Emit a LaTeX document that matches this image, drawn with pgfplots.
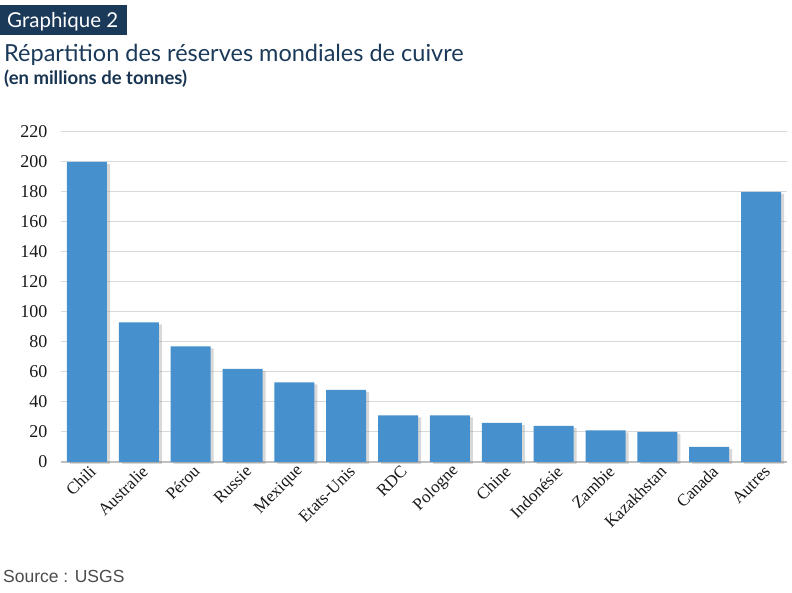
\documentclass[border=0pt]{standalone}
\usepackage{pgfplots}
\pgfplotsset{compat=1.18}
\usepackage{fontspec}
\setmainfont{Liberation Serif}
\newfontfamily\titlefont{Lato}
\newfontfamily\srcfont{Liberation Sans}
\newfontfamily\timesfont{Liberation Serif}
\usetikzlibrary{shadows}
\definecolor{barblue}{HTML}{4590CD}
\definecolor{navy}{HTML}{1B3A5A}
\definecolor{gridgray}{HTML}{D9D9D9}
\begin{document}
\begin{tikzpicture}
\path[use as bounding box, fill=white] (0pt,0pt) rectangle (792pt,593pt);
\fill[navy] (0pt,558pt) rectangle (127pt,588pt);
\node[anchor=base west, inner sep=0pt, text=white, font=\titlefont\fontsize{20.5}{20.5}\selectfont] at (7pt,565pt) {Graphique 2};
\node[anchor=base west, inner sep=0pt, text=navy, font=\titlefont\fontsize{23.5}{23.5}\selectfont] at (4pt,531pt) {Répartition des réserves mondiales de cuivre};
\node[anchor=base west, inner sep=0pt, text=navy!90!black, font=\titlefont\bfseries\fontsize{18.5}{18.5}\selectfont] at (4pt,508pt) {(en millions de tonnes)};
\node[anchor=base west, inner sep=0pt, text=black!70, font=\srcfont\fontsize{17.5}{17.5}\selectfont] at (3pt,10pt) {Source : USGS};
\begin{axis}[
  at={(61pt,131pt)}, anchor=south west,
  scale only axis, width=726pt, height=330pt,
  xmin=-0.5, xmax=13.5, ymin=0, ymax=220,
  ytick={0,20,...,220},
  xtick={0,...,13},
  xticklabels={Chili,Australie,Pérou,Russie,Mexique,Etats-Unis,RDC,Pologne,Chine,Indonésie,Zambie,Kazakhstan,Canada,Autres},
  major tick length=0pt,
  ymajorgrids, grid style={gridgray, line width=1pt},
  axis x line*=bottom, axis y line*=left,
  x axis line style={draw=black!25, line width=1.2pt},
  y axis line style={draw=none},
  /pgf/number format/assume math mode=true,
  yticklabel style={font=\timesfont\fontsize{18}{18}\selectfont, text=black!90, xshift=-10pt},
  xticklabel style={font=\timesfont\fontsize{17}{17}\selectfont, rotate=45, anchor=east, text=black!90, yshift=-9pt, xshift=3pt},
  clip=false,
]
\addplot[ybar, bar width=40pt, fill=barblue, draw=none,
  drop shadow={shadow xshift=3pt, shadow yshift=-2pt, opacity=0.3}]
  coordinates {(0,200) (1,93) (2,77) (3,62) (4,53) (5,48) (6,31) (7,31) (8,26) (9,24) (10,21) (11,20) (12,10) (13,180)};
\end{axis}
\end{tikzpicture}
\end{document}
